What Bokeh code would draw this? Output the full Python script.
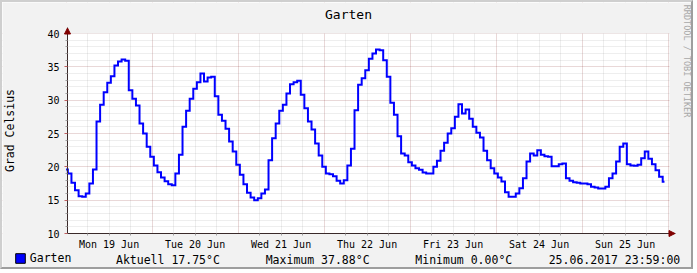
from bokeh.plotting import figure
from bokeh.models import (FixedTicker, Range1d, Arrow, NormalHead, Label,
                          Legend, LegendItem, BoxAnnotation, LinearAxis)
from bokeh.embed import file_html
from bokeh.resources import INLINE

FONT = "DejaVu Sans Mono"

# ---------------- data (hourly readings, °C) ----------------
day_labels = ["Mon 19 Jun", "Tue 20 Jun", "Wed 21 Jun", "Thu 22 Jun",
              "Fri 23 Jun", "Sat 24 Jun", "Sun 25 Jun"]

mon = [19.6, 19.0, 17.6, 16.5, 15.6, 15.5, 16.0, 17.5, 19.6, 26.8, 29.3, 31.2,
       32.6, 33.6, 35.2, 35.8, 36.1, 35.9, 31.5, 30.2, 29.2, 26.5, 25.0, 23.0]
tue = [21.5, 20.2, 19.2, 18.4, 17.85, 17.4, 17.25, 19.0, 21.8, 26.0, 28.4, 30.2,
       31.7, 32.7, 34.0, 32.8, 33.4, 33.5, 30.6, 27.8, 26.9, 25.7, 23.8, 22.3]
wed = [20.3, 18.8, 17.4, 16.1, 15.4, 15.0, 15.3, 16.0, 16.6, 21.0, 24.3, 26.5,
       28.4, 29.3, 31.0, 32.4, 32.7, 32.9, 30.8, 28.8, 26.8, 25.6, 23.5, 21.7]
thu = [20.0, 19.0, 18.9, 18.6, 17.9, 17.5, 18.0, 20.2, 22.7, 28.5, 32.3, 33.3,
       34.5, 36.2, 37.0, 37.6, 37.5, 36.0, 33.5, 29.6, 27.8, 24.6, 22.0, 21.7]
fri = [20.7, 20.2, 19.8, 19.55, 19.15, 19.0, 19.0, 20.0, 20.9, 22.4, 23.6, 25.0,
       25.8, 27.5, 29.4, 28.0, 28.6, 27.2, 26.0, 25.1, 24.4, 22.4, 21.0, 19.8]
sat = [19.0, 18.4, 17.8, 16.2, 15.5, 15.5, 16.0, 16.8, 18.3, 20.8, 22.0, 21.7,
       22.5, 21.8, 21.6, 21.5, 20.1, 20.1, 20.4, 20.5, 18.3, 17.9, 17.7, 17.6]
sun = [17.5, 17.5, 17.4, 17.0, 16.9, 16.75, 16.75, 17.0, 18.3, 19.0, 20.8, 23.0,
       23.5, 20.4, 20.2, 20.15, 20.3, 21.3, 22.3, 21.2, 20.4, 19.5, 18.5, 17.75]

temps = mon + tue + wed + thu + fri + sat + sun
hours = list(range(len(temps)))

aktuell = 17.75
maximum = 37.88
minimum = 0.00
timestamp = "25.06.2017 23:59:00"
series_name = "Garten"

y_major = [10, 15, 20, 25, 30, 35, 40]
y_minor = [v for v in range(10, 41) if v % 5]
midnights = [24 * d for d in range(8)]
noons = [24 * d + 12 for d in range(7)]
six_hours = [h for h in range(0, 169, 6) if h % 24]

# ---------------- styling / geometry ----------------
BACK = "#F2F2F2"
AXIS = "#3A2A2A"
ARROW = "#800000"
MGRID = "#821E1E"
GRID = "#8C8C8C"
LINE = "#0000FF"

W, H = 693, 269              # canvas inside the 2px shaded border
GX0, GX1 = 65, 667           # graph area in canvas pixels (x)
GY0, GY1 = 31, 231           # graph area in canvas pixels (y, top..bottom)
t0, t1 = 0.4, 168.4          # time window (hours)
v0, v1 = 10, 40              # value window
kx = (t1 - t0) / (GX1 - GX0)
ky = (v1 - v0) / (GY1 - GY0)
x_range = Range1d(t0 - GX0 * kx, t1 + (W - GX1) * kx)
y_range = Range1d(v0 - (H - GY1) * ky, v1 + GY0 * ky)

p = figure(width=W, height=H, output_backend="svg", toolbar_location=None,
           x_range=x_range, y_range=y_range, title=None,
           min_border=0, min_border_left=0, min_border_right=0,
           min_border_top=0, min_border_bottom=0)
p.styles = {"border-style": "solid", "border-width": "2px",
            "border-color": "#CFCFCF #9E9E9E #9E9E9E #CFCFCF"}
p.background_fill_color = "white"
p.border_fill_color = BACK
p.outline_line_color = None


def sx(px):   # page pixel -> frame screen x
    return px - 2


def sy(py):   # page pixel -> frame screen y (upwards)
    return H + 2 - py


def tx(px):   # page pixel -> time value
    return t0 + (px - 2 - GX0) * kx


def vy(py):   # page pixel -> temperature value
    return v1 - (py - 2 - GY0) * ky


# x axis (drawn at value 10)
xa = p.xaxis[0]
xa.fixed_location = v0
xa.bounds = (t0, t1 + 6 * kx)
xa.ticker = FixedTicker(ticks=noons, minor_ticks=six_hours)
xa.major_label_overrides = {t: lbl for t, lbl in zip(noons, day_labels)}
xa.major_tick_line_color = None
xa.major_tick_out = 0
xa.major_tick_in = 0
xa.minor_tick_out = 2
xa.minor_tick_in = 0
xa.minor_tick_line_color = "#A0A0A0"
xa.axis_line_color = AXIS
xa.major_label_standoff = 3
xa.major_label_text_font = FONT
xa.major_label_text_font_size = "10px"
xa.major_label_text_color = "black"

# y axis (drawn at the window start)
ya = p.yaxis[0]
ya.fixed_location = t0
ya.bounds = (v0, v1 + 6 * ky)
ya.ticker = FixedTicker(ticks=y_major, minor_ticks=y_minor)
ya.major_tick_out = 3
ya.major_tick_in = 0
ya.major_tick_line_color = "#C06060"
ya.minor_tick_out = 2
ya.minor_tick_in = 0
ya.minor_tick_line_color = "#A0A0A0"
ya.axis_line_color = AXIS
ya.major_label_standoff = 5
ya.major_label_text_font = FONT
ya.major_label_text_font_size = "10px"
ya.major_label_text_color = "black"
ya.axis_label = "Grad Celsius"
ya.axis_label_text_font = FONT
ya.axis_label_text_font_size = "11.5px"
ya.axis_label_text_font_style = "normal"
ya.axis_label_text_color = "black"
ya.axis_label_standoff = 27

# grids
p.xgrid.ticker = FixedTicker(ticks=midnights, minor_ticks=six_hours)
p.ygrid.ticker = FixedTicker(ticks=y_major, minor_ticks=y_minor)
for g in (p.xgrid, p.ygrid):
    g.grid_line_color = MGRID
    g.grid_line_alpha = 0.35
    g.grid_line_dash = "1 1"
    g.minor_grid_line_color = GRID
    g.minor_grid_line_alpha = 0.3
    g.minor_grid_line_dash = "1 1"

# background outside the graph area
for kw in (dict(bottom=v1), dict(top=v0), dict(right=t0), dict(left=t1)):
    p.add_layout(BoxAnnotation(fill_color=BACK, fill_alpha=1, line_color=None,
                               level="underlay", **kw))

# data line
p.step(hours, temps, mode="center", line_width=2, line_color=LINE,
       line_join="miter")

# axis arrows
p.add_layout(Arrow(x_start=t0, y_start=v1, x_end=t0, y_end=v1 + 5.5 * ky,
                   line_color=AXIS, line_width=1,
                   end=NormalHead(size=6, fill_color=ARROW, line_color=ARROW)))
p.add_layout(Arrow(x_start=t1, y_start=v0, x_end=t1 + 5.5 * kx, y_end=v0,
                   line_color=AXIS, line_width=1,
                   end=NormalHead(size=6, fill_color=ARROW, line_color=ARROW)))

# title
p.add_layout(Label(x=sx(348), y=sy(13.8), x_units="screen", y_units="screen",
                   text="Garten", text_font=FONT, text_font_size="13px",
                   text_color="black", text_align="center",
                   text_baseline="middle"))

# legend swatch
sw = p.quad(left=[hours[-1]], right=[hours[-1]], top=[temps[-1]],
            bottom=[temps[-1]], fill_color=LINE, line_color="black",
            line_width=1, visible=False)
leg = Legend(items=[LegendItem(label=series_name, renderers=[sw])],
             location=(sx(13.8), sy(265)), orientation="horizontal",
             glyph_width=12, glyph_height=12, label_standoff=4,
             label_height=12, label_width=10,
             padding=0, margin=0, spacing=0,
             border_line_color=None, background_fill_alpha=0,
             label_text_font=FONT, label_text_font_size="11.5px",
             label_text_color="black")
p.add_layout(leg, "center")

# legend statistics
stats = [(115.5, f"Aktuell {aktuell:.2f}°C"),
         (265.2, f"Maximum {maximum:.2f}°C"),
         (414.8, f"Minimum {minimum:.2f}°C"),
         (548.2, timestamp)]
for px, txt in stats:
    p.add_layout(Label(x=sx(px), y=sy(259.3), x_units="screen",
                       y_units="screen", text=txt, text_font=FONT,
                       text_font_size="11.5px", text_color="black",
                       text_baseline="middle", text_align="left"))

# watermark, written as the label of an otherwise empty right-hand axis
wm = LinearAxis(fixed_location=tx(676), bounds=(vy(115), vy(6)),
                ticker=FixedTicker(ticks=[]), axis_line_color=None,
                major_tick_line_color=None, minor_tick_line_color=None,
                major_tick_out=0, major_tick_in=0,
                minor_tick_out=0, minor_tick_in=0,
                major_label_standoff=0,
                major_label_text_font_size="1px",
                major_label_text_alpha=0,
                axis_label="RRDTOOL / TOBI OETIKER",
                axis_label_text_font=FONT, axis_label_text_font_size="8.5px",
                axis_label_text_font_style="normal",
                axis_label_text_color="#A8A8A8", axis_label_standoff=5)
p.add_layout(wm, "right")

open("out.html", "w").write(file_html(p, INLINE))
